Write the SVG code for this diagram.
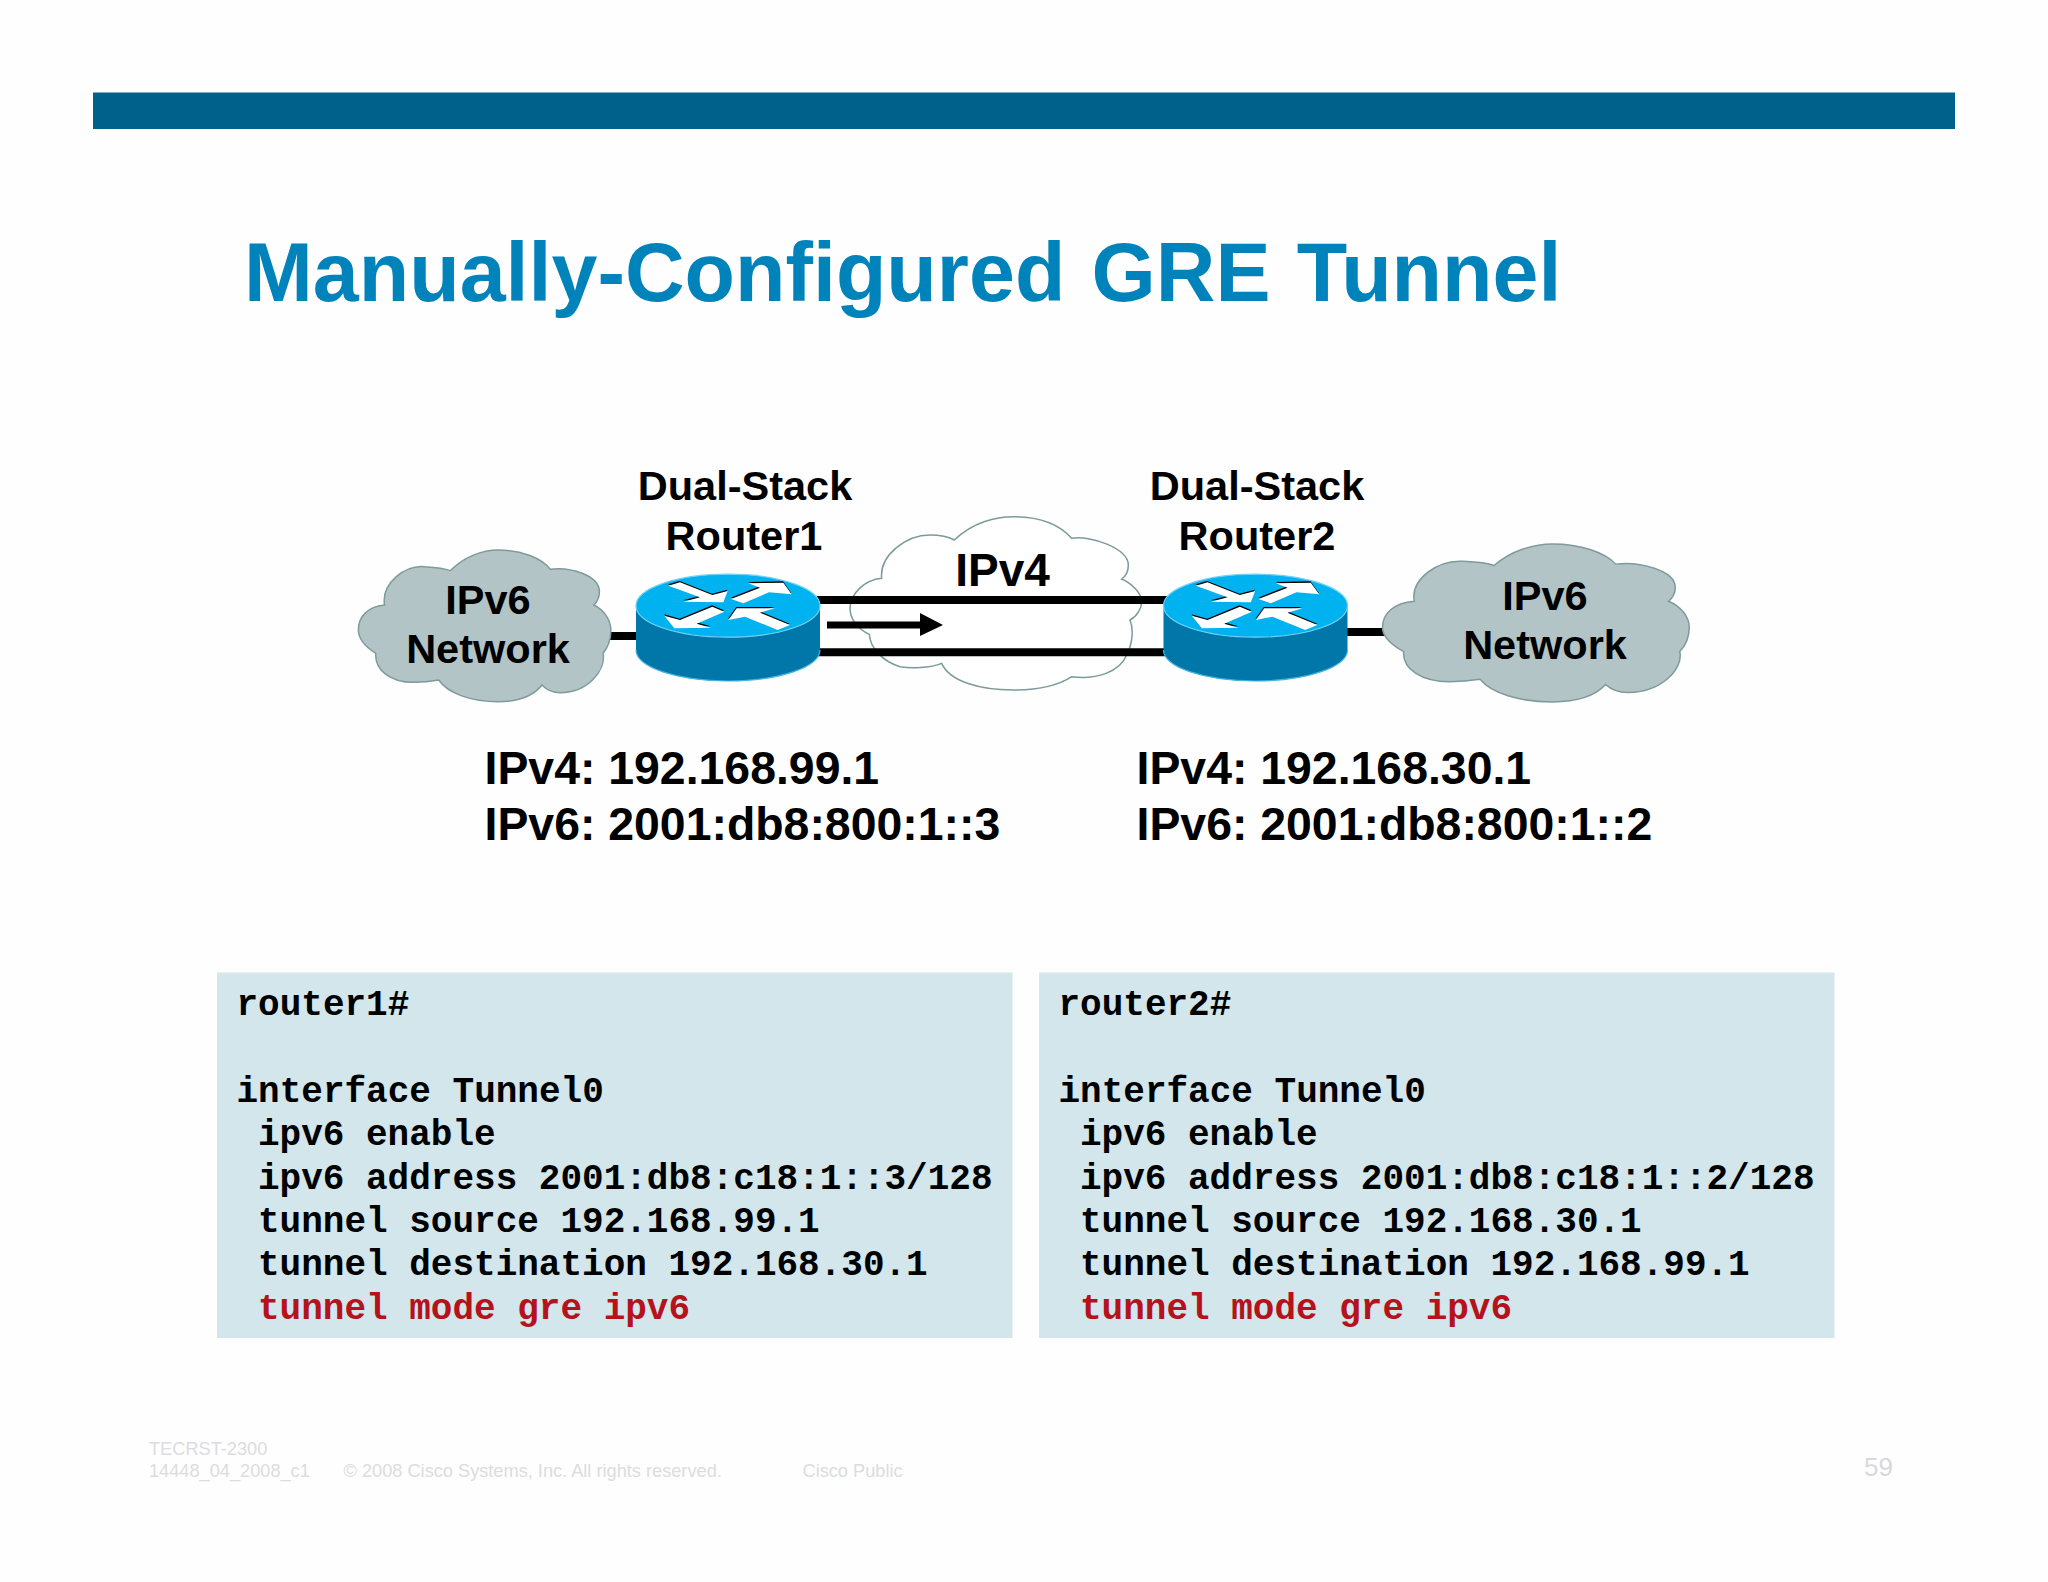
<svg xmlns="http://www.w3.org/2000/svg" xmlns:xlink="http://www.w3.org/1999/xlink" width="2048" height="1582" viewBox="0 0 2048 1582">
<style>
text{font-family:"Liberation Sans",Arial,sans-serif}
.b{font-weight:bold;fill:#000}
.c41{font-size:41.5px;text-anchor:middle}
.ip{font-size:46.4px}
.code{font-family:"Liberation Mono","Courier New",monospace;font-weight:bold;font-size:36px;fill:#000;white-space:pre}
.red{fill:#b5121b}
.foot{font-size:18.2px;fill:#dcdce0}
.panel{fill:#d2e6eb}
.line{stroke:#000;stroke-width:8;fill:none}
.cloudg{fill:#b3c4c6;stroke:#7f9a9a;stroke-width:1.5}
.cloudw{fill:#fff;stroke:#7c9a9a;stroke-width:1.5}
</style>
<defs>
<path id="cloud" vector-effect="non-scaling-stroke" d="M97 465C90 400 140 345 185 350C210 352 228 355 240 362C270 320 310 300 345 300C395 300 440 325 458 358C500 350 565 375 565 425C565 445 560 455 553 465C575 480 590 510 590 540C590 570 585 590 573 610C580 660 540 728 480 728C465 728 450 720 440 705C420 740 385 755 345 755C285 755 235 730 215 690C195 695 180 697 160 697C110 697 75 660 78 610C55 590 40 565 40 540C40 500 60 470 97 465Z"/>
<path id="arrows" d="M130 62L165 52L262 90L308 78L295 112L175 110L225 97ZM318 102L405 68L370 55L475 53L500 88L432 82L355 115ZM262 125L165 165L118 152L148 190L258 188L215 176L298 140ZM495 180L405 143L450 130L335 130L310 165L360 155L458 195Z"/>
<g id="router">
<path d="M636 606V650A92 31 0 0 0 820 650V606Z" fill="#0077a8"/>
<path d="M636 650A92 31 0 0 0 820 650" fill="none" stroke="#45b4e0" stroke-width="1.2"/>
<ellipse cx="728" cy="605.7" rx="92" ry="31.5" fill="#00b2f0" stroke="#6fd3f5" stroke-width="1.2"/>
<g transform="translate(625 565) scale(.33333)">
<use xlink:href="#arrows" href="#arrows" fill="#000" transform="translate(-1 -4)"/>
<use xlink:href="#arrows" href="#arrows" fill="#fff"/>
</g>
</g>
</defs>
<rect id="background" width="2048" height="1582" fill="#fefefe"/>
<rect id="top-bar" x="93" y="92.5" width="1862" height="36.5" fill="#00618a"/>
<text id="title" x="244" y="301" font-size="82.6" font-weight="bold" fill="#0083bb" word-spacing="3.3">Manually-Configured GRE Tunnel</text>

<g id="cloud-ipv4">
<path class="cloudw" transform="translate(840 505) scale(.33333)" vector-effect="non-scaling-stroke" d="M125 220C118 150 200 90 270 90C300 90 325 95 343 105C400 50 470 35 520 35C600 35 660 60 695 100C750 90 865 130 865 180C865 200 855 215 845 222C875 235 905 265 905 290C905 310 890 335 870 345C880 370 880 410 860 450C840 500 770 525 695 515C650 545 580 555 520 555C420 555 330 530 305 475C270 490 210 490 180 485C130 470 90 430 88 388C50 370 30 340 30 310C30 265 75 225 125 220Z"/>
<text class="b" x="1002.5" y="586" font-size="46" text-anchor="middle">IPv4</text>
</g>

<g id="connectors">
<path class="line" d="M605 636H640"/>
<path class="line" d="M1343 632H1390"/>
<path class="line" d="M816 600H1168"/>
<path class="line" d="M816 652.3H1168"/>
<path d="M827 621.5H920V613L943 625L920 636V628.5H827Z" fill="#000"/>
</g>

<g id="cloud-left">
<use href="#cloud" class="cloudg" transform="translate(340 450) scale(.4591 .33333)"/>
<text class="b c41" x="488" y="613.5">IPv6</text>
<text class="b c41" x="488" y="662.5">Network</text>
</g>
<g id="cloud-right">
<use href="#cloud" class="cloudg" transform="translate(1360.2 439.9) scale(.5577 .347)"/>
<text class="b c41" x="1545" y="609.5">IPv6</text>
<text class="b c41" x="1545" y="658.5">Network</text>
</g>
<g id="router1">
<use href="#router"/>
<text class="b c41" x="745" y="500">Dual-Stack</text>
<text class="b c41" x="744" y="550">Router1</text>
</g>
<g id="router2">
<use href="#router" transform="translate(527.5 0)"/>
<text class="b c41" x="1257" y="500">Dual-Stack</text>
<text class="b c41" x="1257" y="550">Router2</text>
</g>

<g id="addr1">
<text class="b ip" x="484.5" y="784">IPv4: 192.168.99.1</text>
<text class="b ip" x="484.5" y="840">IPv6: 2001:db8:800:1::3</text>
</g>
<g id="addr2">
<text class="b ip" x="1136.5" y="784">IPv4: 192.168.30.1</text>
<text class="b ip" x="1136.5" y="840">IPv6: 2001:db8:800:1::2</text>
</g>

<g id="config1">
<rect class="panel" x="217" y="972.5" width="795.5" height="365.5"/>
<text class="code" x="236.5" y="1015">router1#</text>
<text class="code" x="236.5" y="1101.5">interface Tunnel0</text>
<text class="code" x="258" y="1145">ipv6 enable</text>
<text class="code" x="258" y="1188.5">ipv6 address 2001:db8:c18:1::3/128</text>
<text class="code" x="258" y="1231.5">tunnel source 192.168.99.1</text>
<text class="code" x="258" y="1275">tunnel destination 192.168.30.1</text>
<text class="code red" x="258" y="1318.5">tunnel mode gre ipv6</text>
</g>
<g id="config2">
<rect class="panel" x="1039" y="972.5" width="795.5" height="365.5"/>
<text class="code" x="1058.5" y="1015">router2#</text>
<text class="code" x="1058.5" y="1101.5">interface Tunnel0</text>
<text class="code" x="1080" y="1145">ipv6 enable</text>
<text class="code" x="1080" y="1188.5">ipv6 address 2001:db8:c18:1::2/128</text>
<text class="code" x="1080" y="1231.5">tunnel source 192.168.30.1</text>
<text class="code" x="1080" y="1275">tunnel destination 192.168.99.1</text>
<text class="code red" x="1080" y="1318.5">tunnel mode gre ipv6</text>
</g>

<g id="footer">
<text class="foot" x="149" y="1455">TECRST-2300</text>
<text class="foot" x="149" y="1477">14448_04_2008_c1</text>
<text class="foot" x="343.5" y="1477">© 2008 Cisco Systems, Inc. All rights reserved.</text>
<text class="foot" x="802.5" y="1477">Cisco Public</text>
<text x="1864" y="1476" font-size="26" fill="#d8d8dc">59</text>
</g>
</svg>
